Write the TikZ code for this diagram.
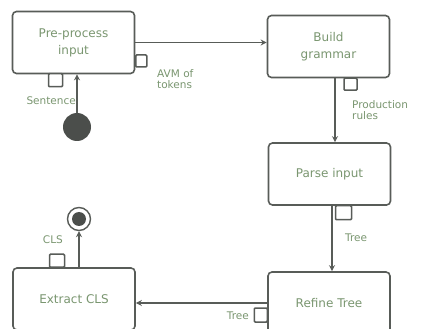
\documentclass[tikz,border=0pt]{standalone}
\usepackage{fontspec}
\setmainfont{DejaVu Sans}
\usepackage{xcolor}
\usepackage{tikz}
\usetikzlibrary{calc, positioning, arrows.meta}

\definecolor{boxgray}{RGB}{88,92,88}
\definecolor{textgreen}{RGB}{122,150,112}

\begin{document}
\begin{tikzpicture}[x=1pt, y=-1pt, >={Stealth[length=6pt, width=6pt]},
    actbox/.style={draw=boxgray, line width=1.6pt, rounded corners=4pt, fill=white,
        minimum width=122pt, minimum height=62pt, align=center, text=textgreen,
        font=\fontsize{12}{17}\selectfont},
    pinbox/.style={draw=boxgray, line width=1.5pt, fill=white, inner sep=0pt,
        rounded corners=1pt, minimum width=12pt, minimum height=12pt},
    flowlabel/.style={text=textgreen, align=left, inner sep=1pt,
        font=\fontsize{10.5}{11.5}\selectfont},
    flow/.style={->, draw=boxgray, line width=1.5pt}]

    \clip (0,0) rectangle (424,329);
    \fill[white] (0,0) rectangle (424,329);

    % =================================================================
    % 1. ACTIONS
    % =================================================================
    \node[actbox] (pre)     at (73.5, 42.5) {Pre-process\\input};
    \node[actbox] (build)   at (328.5, 46.5) {Build\\grammar};
    \node[actbox] (parse)   at (329.5, 174) {Parse input};
    \node[actbox] (refine)  at (329, 303) {Refine Tree};
    \node[actbox] (extract) at (74, 299) {Extract CLS};

    % start and end
    \node[circle, fill=boxgray!85!black, minimum size=28pt, inner sep=0pt] (start) at (77, 127) {};
    \node[circle, draw=boxgray, line width=1.4pt, fill=white, minimum size=23pt, inner sep=0pt] (final) at (79, 219) {};
    \node[circle, fill=boxgray!85!black, minimum size=14pt, inner sep=0pt] (finaldot) at (final) {};

    % =================================================================
    % 2. PINS
    % =================================================================
    \node[pinbox, anchor=north, minimum width=14pt, minimum height=13pt] (preIn) at (55.5, 73) {};
    \node[pinbox, anchor=west, minimum width=11pt] (preOut) at (135, 61) {};
    \node[pinbox, anchor=north, minimum width=13pt] (buildOut) at (350.5, 77.5) {};
    \node[pinbox, anchor=north, minimum width=16pt, minimum height=14pt] (parseOut) at (343.5, 205) {};
    \node[pinbox, anchor=east, minimum width=13pt, minimum height=14pt] (refineOut) at (268, 315) {};
    \node[pinbox, anchor=south, minimum width=15pt, minimum height=13pt] (extractOut) at (57, 268) {};

    % =================================================================
    % 3. FLOWS
    % =================================================================
    \draw[flow] (start) -- (start |- pre.south);
    \draw[flow] (pre.east) -- (pre.east -| build.west);
    \draw[flow] ([xshift=6.5pt]build.south) -- ([xshift=6.5pt]build.south |- parse.north);
    \draw[flow] ([xshift=2.5pt]parse.south) -- ([xshift=2.5pt]parse.south |- refine.north);
    \draw[flow] (refine.west) -- (refine.west -| extract.east);
    \draw[flow] (extract.north -| final) -- (final.south);

    % =================================================================
    % 4. LABELS
    % =================================================================
    \node[flowlabel, anchor=north west] (lblAvm) at (156, 68) {AVM of\\tokens};
    \node[flowlabel, anchor=east] (lblSentence) at (77, 101) {Sentence};
    \node[flowlabel, anchor=north west] (lblRules) at (351, 99) {Production\\rules};
    \node[flowlabel, anchor=west] (lblTree) at (344, 238) {Tree};
    \node[flowlabel, anchor=east] (lblTreeOut) at (250, 316) {Tree};
    \node[flowlabel, anchor=east] (lblCls) at (64, 240) {CLS};

\end{tikzpicture}
\end{document}
